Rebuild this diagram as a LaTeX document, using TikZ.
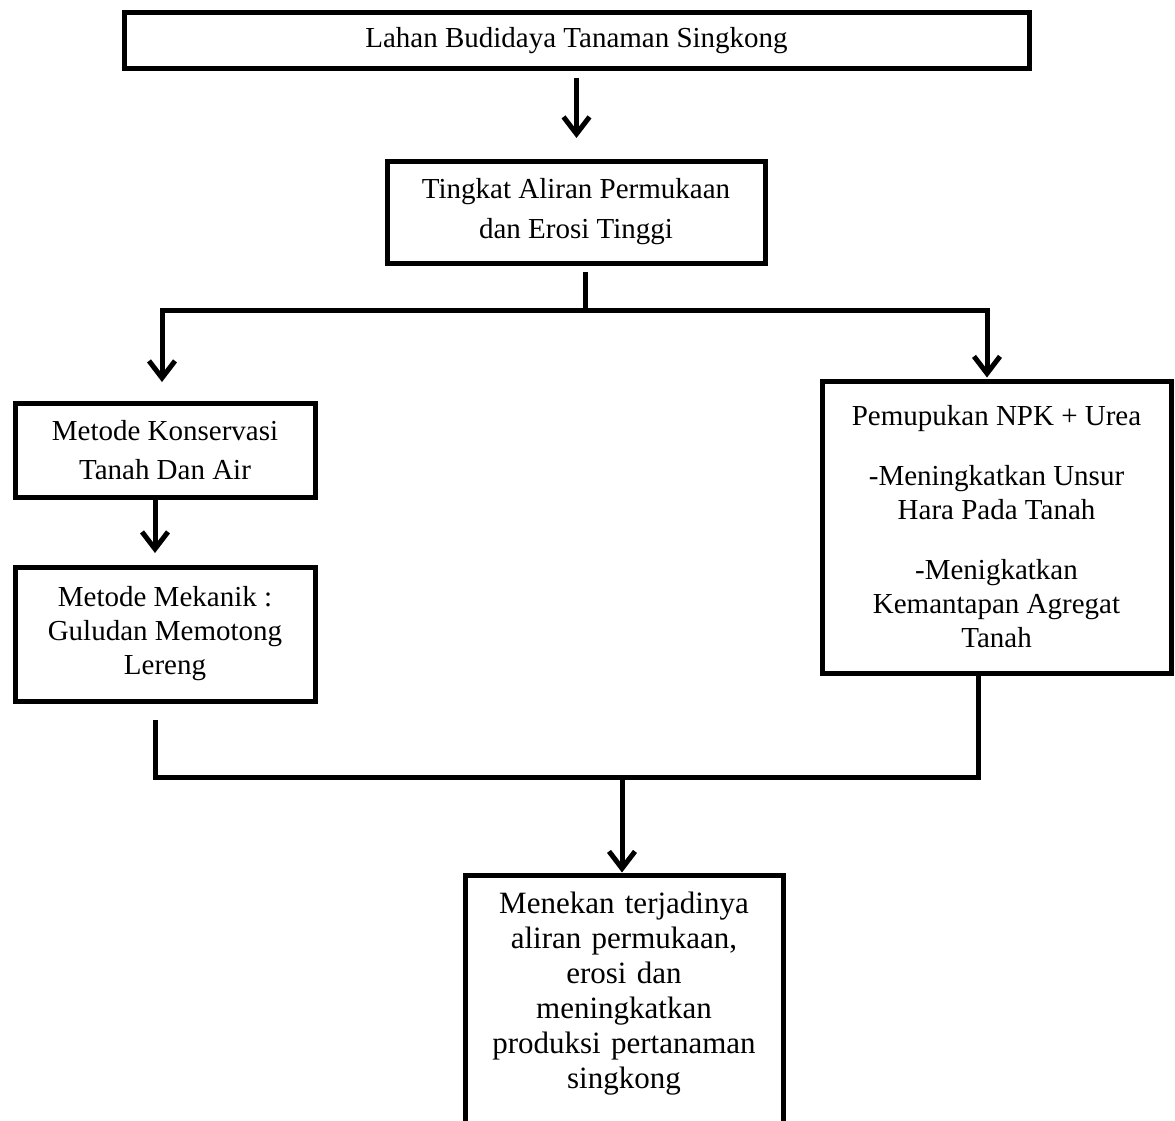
\documentclass[tikz,border=0pt]{standalone}
\usepackage{fontspec}
\setmainfont{Liberation Serif}
\usetikzlibrary{arrows.meta,calc}
\begin{document}
\begin{tikzpicture}[x=1pt,y=-1pt,
  box/.style={draw, line width=5pt, align=center, inner sep=0pt, font=\fontsize{29}{36}\selectfont},
  conn/.style={line width=5pt},
  arr/.style={conn, -{Straight Barb[length=17pt,width=26pt]}},
]
\useasboundingbox (0,0) rectangle (1175,1121);
\fill[white] (0,0) rectangle (1175,1121);

\node[box, minimum width=905pt, minimum height=56pt] (top) at (576.5,41) {Lahan Budidaya Tanaman Singkong};
\node[box, minimum width=378pt, minimum height=102pt, font=\fontsize{29}{40}\selectfont] (ting) at (576,212) {Tingkat Aliran Permukaan\\dan Erosi Tinggi};
\node[box, minimum width=300pt, minimum height=94pt, font=\fontsize{29}{39}\selectfont] (konserv) at (165,450) {Metode Konservasi\\Tanah Dan Air};
\node[box, minimum width=300pt, minimum height=134pt, font=\fontsize{29}{34}\selectfont] (mekanik) at (165,634) {Metode Mekanik :\\Guludan Memotong\\Lereng};
\node[box, minimum width=349pt, minimum height=292pt, font=\fontsize{29}{34}\selectfont] (pupuk) at (996.5,527) {Pemupukan NPK + Urea\\[26pt]-Meningkatkan Unsur\\Hara Pada Tanah\\[26pt]-Menigkatkan\\Kemantapan Agregat\\Tanah};
\node[align=center, text width=290pt, inner xsep=14pt, inner ysep=17pt, outer sep=0pt, anchor=north, font=\fontsize{31}{35}\selectfont] (res) at (624,875) {Menekan terjadinya\\aliran permukaan,\\erosi dan\\meningkatkan\\produksi pertanaman\\singkong};
\draw[conn] ([yshift=-100pt]res.south west) -- (res.north west) -- (res.north east) -- ([yshift=-100pt]res.south east);

\coordinate (split) at (585,310);
\coordinate (bl) at (162,310);
\coordinate (br) at (987,310);
\coordinate (ml) at (155,777);
\coordinate (mr) at (978,777);
\coordinate (mm) at (622,777);

\draw[arr, shorten <=6.5pt, shorten >=20.5pt] (top.south) -- (top.south |- ting.north);
\draw[conn, shorten <=6.5pt] (split |- ting.south) -- (split);
\draw[arr, shorten >=18.5pt] (split) -- (bl) -- (bl |- konserv.north);
\draw[arr, shorten >=1pt] (split) -- (br) -- (br |- pupuk.north);
\draw[arr, shorten >=11.5pt] ([xshift=-10pt]konserv.south) -- ([xshift=-10pt]mekanik.north);
\draw[conn, shorten <=16.5pt] ([xshift=-10pt]mekanik.south) -- (ml) -- (mr) -- (mr |- pupuk.south);
\draw[arr, shorten >=2.5pt] (mm) -- (mm |- res.north);
\end{tikzpicture}
\end{document}
